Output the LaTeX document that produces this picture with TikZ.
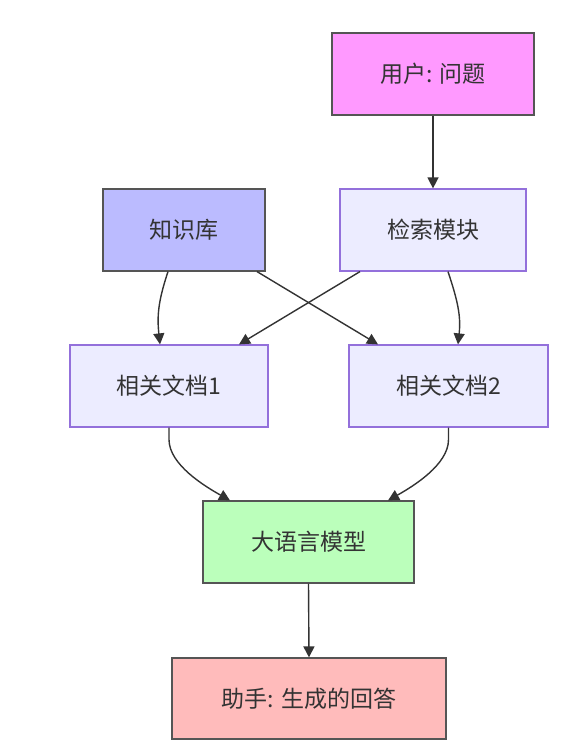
\documentclass[tikz,border=0pt]{standalone}
\usepackage{fontspec}
\setmainfont{Noto Sans CJK SC}
\usetikzlibrary{arrows.meta}
\definecolor{txt}{HTML}{333333}
\definecolor{dk}{HTML}{555555}
\definecolor{purp}{HTML}{9370DB}
\definecolor{lav}{HTML}{ECECFF}
\definecolor{pinkf}{HTML}{FF99FF}
\definecolor{bluef}{HTML}{BBBBFF}
\definecolor{greenf}{HTML}{BBFFBB}
\definecolor{redf}{HTML}{FFBBBB}
\tikzset{
  box/.style={draw, line width=1.2pt, inner sep=0pt, text=txt,
    font=\fontsize{23}{27}\selectfont, minimum height=82pt},
  darkbox/.style={box, draw=dk},
  lavbox/.style={box, draw=purp, fill=lav},
  edge/.style={draw=txt, line width=1.4pt, -{Triangle[length=11pt,width=11pt]}},
}
\begin{document}
\begin{tikzpicture}[x=1pt,y=-1pt]
\useasboundingbox (0,0) rectangle (567,751);
\node[darkbox, fill=pinkf, minimum width=202pt] (user) at (433,74) {用户: 问题};
\node[darkbox, fill=bluef, minimum width=162pt] (kb) at (184,230) {知识库};
\node[lavbox, minimum width=186pt] (ret) at (433,230) {检索模块};
\node[lavbox, minimum width=198pt] (d1) at (169,386) {相关文档1};
\node[lavbox, minimum width=199pt] (d2) at (448.5,386) {相关文档2};
\node[darkbox, fill=greenf, minimum width=211pt] (llm) at (308.5,542) {大语言模型};
\node[darkbox, fill=redf, minimum width=274pt, minimum height=81pt] (ans) at (309,698.5) {助手: 生成的回答};

\draw[edge] (user.south) -- (ret.north);
\draw[edge] ([xshift=-16pt]kb.south) .. controls +(-10,30) and +(-3,-28) .. ([xshift=-9pt]d1.north);
\draw[edge] ([xshift=73pt]kb.south) -- ([xshift=-70.5pt]d2.north);
\draw[edge] ([xshift=-73pt]ret.south) -- ([xshift=70pt]d1.north);
\draw[edge] ([xshift=15pt]ret.south) .. controls +(10,30) and +(3,-28) .. ([xshift=9.5pt]d2.north);
\draw[edge] (d1.south) -- ++(0,12) .. controls +(0,25) and +(-25,-14) .. ([xshift=-78.5pt]llm.north);
\draw[edge] (d2.south) -- ++(0,12) .. controls +(0,25) and +(25,-14) .. ([xshift=79.5pt]llm.north);
\draw[edge] (llm.south) -- (ans.north);
\end{tikzpicture}
\end{document}
